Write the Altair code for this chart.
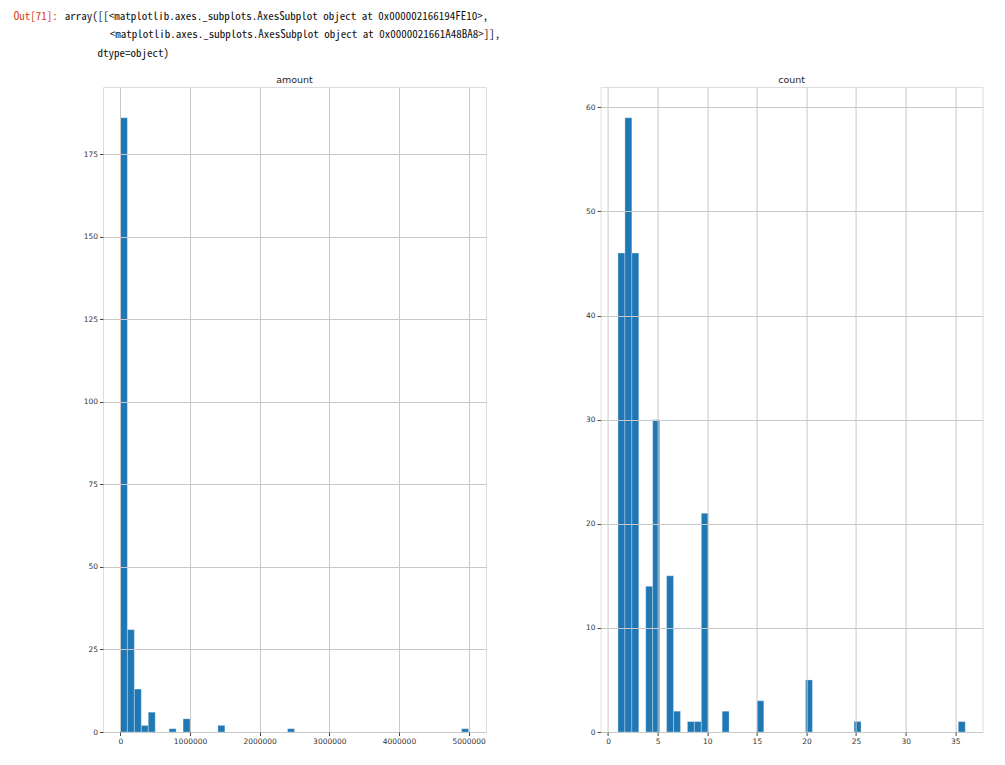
import altair as alt
import pandas as pd

# ---- data ----
amount_bin_start = [0, 100000, 200000, 300000, 400000, 700000, 900000, 1400000, 2400000, 4900000]
amount_counts = [186, 31, 13, 2, 6, 1, 4, 2, 1, 1]
amount_bin_width = 100000

count_bin_start = [1.0, 1.7, 2.4, 3.8, 4.5, 5.9, 6.6, 8.0, 8.7, 9.4, 11.5, 15.0, 19.9, 24.8, 35.3]
count_counts = [46, 59, 46, 14, 30, 15, 2, 1, 1, 21, 2, 3, 5, 1, 1]
count_bin_width = 0.7

amount_x_ticks = [0, 1000000, 2000000, 3000000, 4000000, 5000000]
amount_y_ticks = [0, 25, 50, 75, 100, 125, 150, 175]
count_x_ticks = [0, 5, 10, 15, 20, 25, 30, 35]
count_y_ticks = [0, 10, 20, 30, 40, 50, 60]

amount_x_domain = [-250000, 5250000]
amount_y_domain = [0, 195.3]
count_x_domain = [-0.75, 37.75]
count_y_domain = [0, 61.95]

panel_titles = ["amount", "count"]

out_prompt = "Out[71]:"
out_lines = [
    "array([[<matplotlib.axes._subplots.AxesSubplot object at 0x000002166194FE10>,",
    "<matplotlib.axes._subplots.AxesSubplot object at 0x0000021661A48BA8>]],",
    "dtype=object)",
]

BAR = "#1f77b4"
MONO = "Noto Sans Mono CJK KR, Noto Sans Mono CJK SC, DejaVu Sans Mono, monospace"
H = 645


def axis(ticks, orient):
    return alt.Axis(
        values=ticks, format="d", title=None, grid=True, gridColor="#c8c8c8",
        gridWidth=1, domain=False, ticks=True, tickSize=3.5, tickColor="#444",
        labelFontSize=7.5, labelColor="#333", labelFont="DejaVu Sans",
        labelPadding=2, zindex=1, labelFlush=False, orient=orient,
    )


def txt(s, x, y, color, font=MONO, size=11, align="left"):
    return alt.Chart(pd.DataFrame({"t": [s]})).mark_text(
        align=align, baseline="alphabetic", font=font, fontSize=size, color=color
    ).encode(text="t:N", x=alt.value(x), y=alt.value(y))


def hist(starts, counts, width, xticks, yticks, xdom, ydom, title, w):
    df = pd.DataFrame({
        "start": starts,
        "end": [s + width for s in starts],
        "n": counts,
    })
    bars = alt.Chart(df).mark_bar(color=BAR, stroke="white", strokeWidth=0.3).encode(
        x=alt.X("start:Q", scale=alt.Scale(domain=xdom, nice=False, zero=False), axis=axis(xticks, "bottom")),
        x2="end:Q",
        y=alt.Y("n:Q", scale=alt.Scale(domain=ydom, nice=False), axis=axis(yticks, "left")),
        y2=alt.datum(0),
    ).properties(width=w, height=H)
    ttl = txt(title, w / 2, -4, "#262626", font="DejaVu Sans", size=9.5, align="center")
    return bars, ttl


left_bars, left_title = hist(amount_bin_start, amount_counts, amount_bin_width, amount_x_ticks,
                             amount_y_ticks, amount_x_domain, amount_y_domain, panel_titles[0], 383)
right_bars, right_title = hist(count_bin_start, count_counts, count_bin_width, count_x_ticks,
                               count_y_ticks, count_x_domain, count_y_domain, panel_titles[1], 382)

texts = [
    txt(out_prompt, -89.3, -67.3, "#d84315"),
    txt(out_lines[0], -38.3, -67.3, "#111111"),
    txt(out_lines[1], 6.7, -48.8, "#111111"),
    txt(out_lines[2], -5.6, -30.3, "#111111"),
]

left = alt.layer(left_bars, left_title, *texts)
right = alt.layer(right_bars, right_title)

chart = alt.hconcat(left, right, spacing=114.6, bounds="flush").properties(
    padding={"left": 5, "top": 2, "right": 5, "bottom": 5}
).configure_view(stroke="#555", strokeWidth=1).configure(background="white")

chart.save("out.html", embed_options={"renderer": "svg", "actions": False})
